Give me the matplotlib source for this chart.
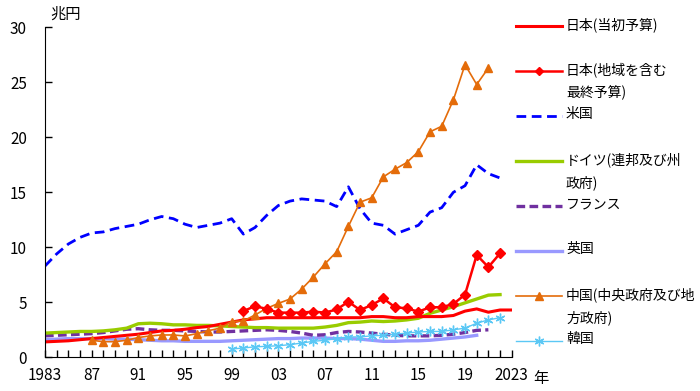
import matplotlib
matplotlib.use("Agg")
import matplotlib.pyplot as plt
from matplotlib.lines import Line2D

plt.rcParams['font.family'] = ['Noto Sans CJK JP', 'DejaVu Sans']

years_all = list(range(1983, 2024))

# 日本(当初予算) 1983-2023
japan_init = [1.4, 1.45, 1.5, 1.6, 1.7, 1.8, 1.9, 2.0, 2.1, 2.25, 2.4, 2.45, 2.55, 2.7,
              2.8, 3.0, 3.2, 3.4, 3.5, 3.6, 3.6, 3.6, 3.6, 3.6, 3.6, 3.6, 3.6, 3.6,
              3.7, 3.7, 3.6, 3.6, 3.7, 3.7, 3.7, 3.8, 4.2, 4.4, 4.1, 4.3, 4.3]
# 日本(地域を含む最終予算) 2000-2022
japan_final_years = list(range(2000, 2023))
japan_final = [4.2, 4.65, 4.4, 4.06, 4.06, 4.06, 4.15, 4.06, 4.35, 5.05, 4.3, 4.75,
               5.35, 4.55, 4.45, 4.15, 4.55, 4.55, 4.85, 5.7, 9.3, 8.2, 9.45]
# 米国 1983-2022
us_years = list(range(1983, 2023))
us = [8.3, 9.4, 10.3, 10.9, 11.3, 11.4, 11.7, 11.9, 12.1, 12.5, 12.8, 12.6, 12.1, 11.8,
      12.0, 12.2, 12.6, 11.2, 11.8, 12.9, 13.8, 14.2, 14.4, 14.3, 14.2, 13.7, 15.5, 13.5,
      12.2, 12.0, 11.2, 11.6, 12.0, 13.2, 13.6, 15.0, 15.6, 17.5, 16.7, 16.3]
# ドイツ 1983-2022
de_years = list(range(1983, 2023))
germany = [2.2, 2.25, 2.3, 2.35, 2.35, 2.4, 2.5, 2.65, 3.05, 3.1, 3.05, 2.95, 2.95, 2.9,
           2.9, 2.85, 2.8, 2.75, 2.7, 2.7, 2.65, 2.65, 2.65, 2.65, 2.75, 2.9, 3.15, 3.2,
           3.3, 3.25, 3.3, 3.4, 3.55, 4.0, 4.3, 4.6, 4.95, 5.3, 5.65, 5.7]
# フランス 1983-2021
fr_years = list(range(1983, 2022))
france = [1.95, 2.0, 2.05, 2.1, 2.15, 2.25, 2.4, 2.55, 2.6, 2.5, 2.45, 2.45, 2.4, 2.35,
          2.3, 2.3, 2.35, 2.4, 2.45, 2.5, 2.45, 2.35, 2.2, 2.0, 2.05, 2.25, 2.35, 2.3,
          2.2, 2.1, 2.0, 1.95, 1.95, 1.95, 2.0, 2.1, 2.25, 2.45, 2.5]
# 英国 1983-2020
uk_years = list(range(1983, 2021))
uk = [1.6, 1.65, 1.7, 1.7, 1.7, 1.7, 1.65, 1.65, 1.6, 1.55, 1.5, 1.5, 1.45, 1.45,
      1.45, 1.45, 1.5, 1.55, 1.6, 1.65, 1.7, 1.7, 1.75, 1.75, 1.75, 1.7, 1.7, 1.65,
      1.55, 1.45, 1.45, 1.5, 1.5, 1.55, 1.65, 1.75, 1.85, 2.0]
# 中国 1987-2021
cn_years = list(range(1987, 2022))
china = [1.55, 1.42, 1.42, 1.55, 1.8, 1.94, 2.03, 2.03, 1.94, 2.15, 2.42, 2.65, 3.25,
         3.3, 3.85, 4.45, 4.9, 5.3, 6.2, 7.3, 8.5, 9.6, 11.9, 14.1, 14.5, 16.4, 17.1,
         17.7, 18.7, 20.5, 21.0, 23.4, 26.6, 24.8, 26.3]
# 韓国 1999-2022
kr_years = list(range(1999, 2023))
korea = [0.75, 0.85, 0.95, 1.0, 1.05, 1.15, 1.3, 1.45, 1.55, 1.7, 1.85, 1.85, 1.95,
         2.0, 2.1, 2.2, 2.3, 2.35, 2.35, 2.5, 2.65, 3.1, 3.4, 3.6]

xtick_years = list(range(1983, 2024, 4))
xtick_labels = ['1983', '87', '91', '95', '99', '03', '07', '11', '15', '19', '2023']

c_red = '#FF0000'
c_blue = '#0000FF'
c_green = '#99CC00'
c_purple = '#7030A0'
c_lav = '#9999FF'
c_orange = '#E46C0A'
c_sky = '#5BC8F5'

us_dash = (3.5, 2)
fr_dash = (2.6, 1.3)

fig = plt.figure(figsize=(7, 3.91), dpi=100)
ax = fig.add_axes([45/700, 1-357.3/391, (511.7-45)/700, 330/391])

ax.plot(uk_years, uk, color=c_lav, lw=2.4)
ax.plot(fr_years, france, color=c_purple, lw=2.4, dashes=fr_dash)
ax.plot(de_years, germany, color=c_green, lw=2.4)
ax.plot(us_years, us, color=c_blue, lw=2.0, dashes=us_dash)
ax.plot(years_all, japan_init, color=c_red, lw=2.2)
ax.plot(kr_years, korea, color=c_sky, lw=1.0, marker=(6, 2, 0), ms=7, mew=1.0)
ax.plot(cn_years, china, color=c_orange, lw=1.2, marker='^', ms=6)
ax.plot(japan_final_years, japan_final, color=c_red, lw=1.8, marker='D', ms=5)

ax.set_xlim(1983, 2023)
ax.set_ylim(0, 30)
ax.set_yticks(range(0, 31, 5))
ax.set_xticks(xtick_years)
ax.set_xticks(years_all, minor=True)
ax.set_xticklabels(xtick_labels)
for s in ['top', 'right']:
    ax.spines[s].set_visible(False)
ax.tick_params(axis='both', direction='in', labelsize=11, length=5, width=1)
ax.tick_params(axis='x', which='minor', direction='in', length=5, width=1)
ax.tick_params(axis='x', pad=7)
ax.tick_params(axis='y', pad=13)

fig.text(50/700, 1-14/391, '兆円', fontsize=11, ha='left', va='center')
fig.text(533/700, 1-378/391, '年', fontsize=11, ha='left', va='center')

# legend drawn by hand on the right
def fx(px):
    return px / 700

def fy(py):
    return 1 - py / 391

entries = [
    (26, '日本(当初予算)', dict(color=c_red, lw=2.2), None),
    (71, '日本(地域を含む\n最終予算)', dict(color=c_red, lw=1.8), dict(marker='D', ms=4, color=c_red)),
    (116, '米国', dict(color=c_blue, lw=2.0, dashes=us_dash), None),
    (161, 'ドイツ(連邦及び州\n政府)', dict(color=c_green, lw=2.4), None),
    (206, 'フランス', dict(color=c_purple, lw=2.4, dashes=fr_dash), None),
    (251, '英国', dict(color=c_lav, lw=2.4), None),
    (296, '中国(中央政府及び地\n方政府)', dict(color=c_orange, lw=1.2), dict(marker='^', ms=6, color=c_orange)),
    (341, '韓国', dict(color=c_sky, lw=1.0), dict(marker=(6, 2, 0), ms=7, color=c_sky, mew=1.0)),
]
for y, label, lstyle, mstyle in entries:
    fig.add_artist(Line2D([fx(516), fx(562)], [fy(y), fy(y)], transform=fig.transFigure, **lstyle))
    if mstyle:
        fig.add_artist(Line2D([fx(539)], [fy(y)], transform=fig.transFigure, lw=0, **mstyle))
    fig.text(fx(566), fy(y - 9), label, fontsize=10, ha='left', va='top', linespacing=1.75)

fig.savefig('out.png', dpi=100)
